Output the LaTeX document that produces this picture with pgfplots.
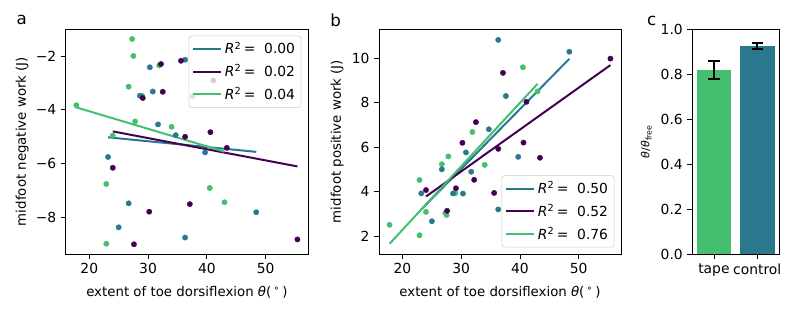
\documentclass[border=0pt]{standalone}
\usepackage{pgfplots}
\pgfplotsset{compat=1.18}
\usepackage{fontspec}
\setmainfont{DejaVu Sans}
\definecolor{vteal}{HTML}{2A788E}
\definecolor{vpurp}{HTML}{440154}
\definecolor{vgreen}{HTML}{44BF70}
\newcommand{\tf}{\fontsize{10.4}{12.5}\selectfont}
\pgfplotsset{
  myaxis/.style={
    scale only axis,
    height=168.75pt,
    anchor=south west,
    tick align=outside,
    xtick pos=left, ytick pos=left,
    major tick length=3.6pt,
    axis line style={line width=0.6pt},
    every tick/.style={black, line width=0.6pt},
    tick label style={font=\tf},
    label style={font=\tf},
    /pgf/number format/assume math mode=true,
    legend cell align=left,
    legend image code/.code={\draw[##1, line width=1.5pt] (0pt,0pt) -- (21pt,0pt);},
  },
  pts/.style={only marks, mark=*, mark size=2.0pt, color=#1, mark options={solid, draw=#1, fill=#1, line width=0.3pt}, forget plot},
  fit/.style={no marks, line width=1.5pt, color=#1},
  leg/.style={legend style={draw=black!20, rounded corners=2pt, fill=white, fill opacity=0.8, text opacity=1, font=\tf, inner sep=2.5pt, row sep=2.5pt}},
}
\begin{document}
\begin{tikzpicture}
% ---------------- panel a
\begin{axis}[myaxis, leg, at={(49.3pt,47.25pt)}, width=181.7pt,
  xmin=16.0, xmax=57.2, ymin=-9.35, ymax=-1.0,
  xtick={20,30,40,50},
  ytick={-8,-6,-4,-2}, yticklabels={−8,−6,−4,−2},
  xlabel={extent of toe dorsiflexion \textit{θ}(\,\textsuperscript{∘}\,)},
  ylabel={midfoot negative work (J)},
  every axis x label/.style={at={(axis description cs:0.5,-0.168)}, anchor=center},
  every axis y label/.style={at={(axis description cs:-0.18,0.5)}, rotate=90, anchor=center},
  legend style={at={(1,1)}, anchor=north east, xshift=-5pt, yshift=-5pt},
]
\addplot[pts=vgreen] coordinates {(27.3,-1.37)(27.5,-2.0)(31.9,-2.35)(26.7,-3.14)(29.0,-3.48)(17.8,-3.83)(27.8,-4.43)(34.0,-4.63)(24.0,-4.96)(22.9,-6.75)(22.9,-8.97)(40.5,-6.9)(43.0,-7.43)};
\addplot[pts=vteal] coordinates {(30.3,-2.42)(36.3,-2.14)(28.6,-3.48)(30.8,-3.32)(37.6,-3.5)(31.7,-4.54)(34.7,-4.94)(39.7,-5.58)(23.2,-5.75)(26.7,-7.47)(25.0,-8.36)(36.3,-8.74)(48.4,-7.8)};
\addplot[pts=vpurp] coordinates {(32.2,-2.3)(35.6,-2.18)(29.1,-3.56)(32.5,-3.33)(41.1,-2.91)(36.3,-5.0)(40.6,-4.83)(43.4,-5.41)(24.0,-6.15)(30.2,-7.78)(37.1,-7.5)(27.6,-8.99)(55.4,-8.81)};
\addplot[fit=vteal] coordinates {(23.2,-5.02)(48.4,-5.56)};
\addlegendentry{\textit{R}\textsuperscript{2}\,= \ 0.00}
\addplot[fit=vpurp] coordinates {(24.0,-4.80)(55.4,-6.10)};
\addlegendentry{\textit{R}\textsuperscript{2}\,= \ 0.02}
\addplot[fit=vgreen] coordinates {(17.8,-3.91)(43.0,-5.55)};
\addlegendentry{\textit{R}\textsuperscript{2}\,= \ 0.04}
\end{axis}
% ---------------- panel b
\begin{axis}[myaxis, leg, at={(284.25pt,47.25pt)}, width=181.5pt,
  xmin=16.0, xmax=57.2, ymin=1.2, ymax=11.3,
  xtick={20,30,40,50},
  ytick={2,4,6,8,10},
  xlabel={extent of toe dorsiflexion \textit{θ}(\,\textsuperscript{∘}\,)},
  ylabel={midfoot positive work (J)},
  every axis x label/.style={at={(axis description cs:0.5,-0.168)}, anchor=center},
  every axis y label/.style={at={(axis description cs:-0.173,0.5)}, rotate=90, anchor=center},
  legend style={at={(1,0)}, anchor=south east, xshift=-5pt, yshift=5pt},
]
\addplot[pts=vgreen] coordinates {(27.3,3.04)(27.5,2.95)(31.9,6.68)(26.7,5.23)(29.0,3.93)(17.8,2.51)(27.8,5.58)(34.0,5.2)(24.0,3.09)(22.9,4.52)(22.9,2.04)(40.5,9.58)(43.0,8.5)};
\addplot[pts=vteal] coordinates {(36.3,10.81)(48.4,10.28)(37.6,8.29)(34.7,6.8)(23.2,3.92)(25.0,2.67)(26.7,5.0)(28.6,3.92)(30.8,5.76)(31.7,4.89)(30.3,3.91)(36.3,3.2)(39.7,5.56)};
\addplot[pts=vpurp] coordinates {(37.1,9.33)(32.5,7.12)(30.2,6.19)(40.6,6.2)(41.1,8.03)(24.0,4.07)(27.6,3.14)(29.1,4.15)(32.2,4.53)(35.6,3.94)(36.3,5.92)(55.4,9.97)(43.4,5.52)};
\addplot[fit=vteal] coordinates {(23.2,3.2)(48.4,9.96)};
\addlegendentry{\textit{R}\textsuperscript{2}\,= \ 0.50}
\addplot[fit=vpurp] coordinates {(24.0,3.78)(55.4,9.68)};
\addlegendentry{\textit{R}\textsuperscript{2}\,= \ 0.52}
\addplot[fit=vgreen] coordinates {(17.8,1.66)(43.0,8.84)};
\addlegendentry{\textit{R}\textsuperscript{2}\,= \ 0.76}
\end{axis}
% ---------------- panel c
\begin{axis}[myaxis, at={(519.2pt,47.25pt)}, width=65pt,
  xmin=-0.5, xmax=1.5, ymin=0, ymax=1.0,
  xtick={0,1}, xticklabels={tape,control},
  ytick={0,0.2,0.4,0.6,0.8,1.0},
  yticklabel style={/pgf/number format/.cd, fixed, fixed zerofill, precision=1},
  ylabel={\fontsize{8.3}{10}\selectfont\textit{θ}/\textit{θ}\textsubscript{free}},
  every axis y label/.style={at={(axis description cs:-0.53,0.5)}, rotate=90, anchor=center},
  ybar, bar width=0.8, bar shift=0pt,
]
\addplot[fill=vgreen, draw=none, error bars/.cd, y dir=both, y explicit,
  error bar style={line width=1.5pt, black}, error mark options={line width=1.5pt, black, mark size=4.2pt, rotate=90}]
  coordinates {(0,0.817) +- (0,0.040)};
\addplot[fill=vteal, draw=none, error bars/.cd, y dir=both, y explicit,
  error bar style={line width=1.5pt, black}, error mark options={line width=1.5pt, black, mark size=4.2pt, rotate=90}]
  coordinates {(1,0.925) +- (0,0.012)};
\end{axis}
\node[font=\fontsize{12.5}{14}\selectfont] at (16.3pt,222.75pt) {a};
\node[font=\fontsize{12.5}{14}\selectfont] at (251.8pt,222.75pt) {b};
\node[font=\fontsize{12.5}{14}\selectfont] at (488.8pt,222.2pt) {c};
\pgfresetboundingbox
\path (0,0) rectangle (594.75pt,237.75pt);
\end{tikzpicture}
\end{document}
